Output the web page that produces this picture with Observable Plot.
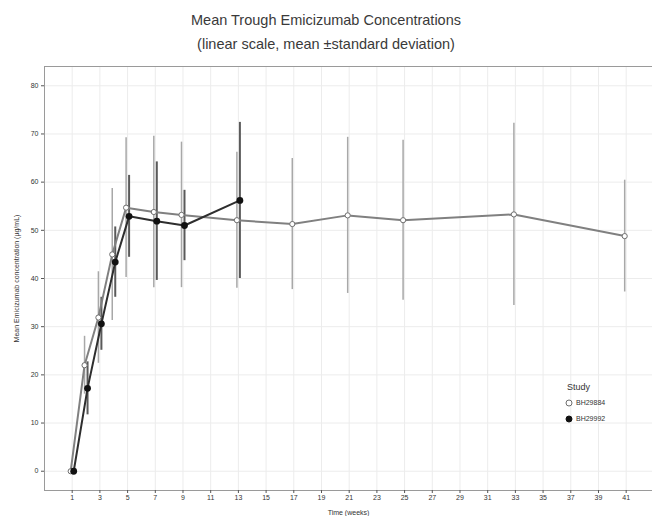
<!DOCTYPE html>
<html><head><meta charset="utf-8">
<script src="https://cdn.jsdelivr.net/npm/d3@7"></script>
<script src="https://cdn.jsdelivr.net/npm/@observablehq/plot@0.6"></script>
<style>
body{margin:0;background:#fff;font-family:"Liberation Sans",Arial,sans-serif;}
#wrap{position:relative;width:652px;height:516px;overflow:hidden;background:#fff}
.t{position:absolute;left:0;width:652px;text-align:center;color:#3a3a3a;font-size:14.5px;line-height:16px}
#chart{position:absolute;left:0;top:58px}
#legend{position:absolute;left:564px;top:379px;font-size:7px;color:#333;line-height:16px}
#legend .h{font-size:9px;margin-left:3px}
#legend svg{vertical-align:middle;margin-right:2px}
</style></head>
<body>
<div id="wrap">
  <div class="t" style="top:12px">Mean Trough Emicizumab Concentrations</div>
  <div class="t" style="top:36px">(linear scale, mean ±standard deviation)</div>
  <div id="chart"></div>
  <div id="legend"></div>
</div>
<script>
// Study BH29884 (open circles)
const weeksA = [1, 2, 3, 4, 5, 7, 9, 13, 17, 21, 25, 33, 41];
const meanA  = [0, 22.0, 31.9, 45.0, 54.7, 53.8, 53.2, 52.1, 51.3, 53.1, 52.1, 53.3, 48.8];
const sdA    = [0, 6.0, 9.5, 13.7, 14.5, 15.7, 15.1, 14.1, 13.6, 16.2, 16.6, 18.9, 11.6];
// Study BH29992 (filled circles)
const weeksB = [1, 2, 3, 4, 5, 7, 9, 13];
const meanB  = [0, 17.2, 30.6, 43.4, 52.9, 51.9, 51.0, 56.2];
const sdB    = [0, 5.5, 5.5, 7.3, 8.5, 12.3, 7.3, 16.2];

const studies = ["BH29884", "BH29992"];
const xTicks = [1, 3, 5, 7, 9, 11, 13, 15, 17, 19, 21, 23, 25, 27, 29, 31, 33, 35, 37, 39, 41];
const yTicks = [0, 10, 20, 30, 40, 50, 60, 70, 80];

const rowsA = weeksA.map((w, i) => ({study: studies[0], week: w, mean: meanA[i], sd: sdA[i]}));
const rowsB = weeksB.map((w, i) => ({study: studies[1], week: w, mean: meanB[i], sd: sdB[i]}));

const lo = d => d.mean - d.sd, hi = d => d.mean + d.sd;

const chart = Plot.plot({
  width: 652,
  height: 458,
  marginLeft: 44,
  marginRight: 0,
  marginTop: 8,
  marginBottom: 26,
  style: {fontFamily: "Liberation Sans, Arial, sans-serif", background: "#fff", color: "#333"},
  x: {domain: [-1, 42.9]},
  y: {domain: [-4, 84]},
  marks: [
    Plot.gridX(xTicks, {stroke: "#ececec", strokeOpacity: 1}),
    Plot.gridY(yTicks, {stroke: "#ececec", strokeOpacity: 1}),
    Plot.frame({stroke: "#9a9a9a"}),
    Plot.ruleX(rowsA.filter(d => d.sd > 0), {x: "week", y1: lo, y2: hi, stroke: "#a8a8a8", strokeWidth: 1.5, dx: -1.5}),
    Plot.ruleX(rowsB.filter(d => d.sd > 0), {x: "week", y1: lo, y2: hi, stroke: "#5a5a5a", strokeWidth: 2, dx: 1.5}),
    Plot.lineY(rowsA, {x: "week", y: "mean", stroke: "#808080", strokeWidth: 2, dx: -1.5}),
    Plot.lineY(rowsB, {x: "week", y: "mean", stroke: "#2e2e2e", strokeWidth: 2, dx: 1.5}),
    Plot.dot(rowsA, {x: "week", y: "mean", r: 2.6, fill: "#fff", stroke: "#6e6e6e", strokeWidth: 1, dx: -1.5}),
    Plot.dot(rowsB, {x: "week", y: "mean", r: 3.4, fill: "#111", dx: 1.5}),
    Plot.axisX(xTicks, {tickSize: 3, tickPadding: 2, fontSize: 7, stroke: "#555", fill: "#333",
      label: "Time (weeks)", labelAnchor: "center", labelOffset: 24, labelArrow: "none"}),
    Plot.axisY(yTicks, {tickSize: 3, tickPadding: 3, fontSize: 7, stroke: "#555", fill: "#333",
      label: "Mean Emicizumab concentration (µg/mL)", labelAnchor: "center", labelOffset: 30, labelArrow: "none"})
  ]
});
document.getElementById("chart").appendChild(chart);

// legend
const lg = document.getElementById("legend");
lg.innerHTML = `<div class="h">Study</div>` + studies.map((s, i) =>
  `<div><svg width="10" height="10"><circle cx="5" cy="5" r="3" fill="${i ? "#111" : "#fff"}" stroke="${i ? "#111" : "#6e6e6e"}"/></svg>${s}</div>`).join("");
</script>
</body></html>
